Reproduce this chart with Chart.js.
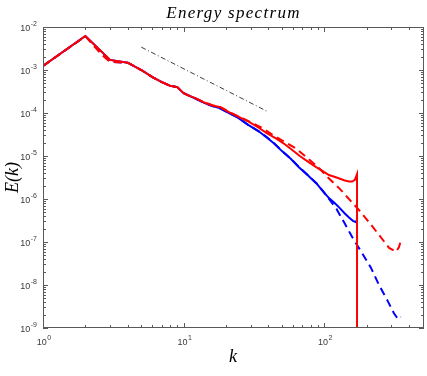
<!DOCTYPE html>
<html>
<head>
<meta charset="utf-8">
<script src="https://cdn.jsdelivr.net/npm/chart.js@4.4.0/dist/chart.umd.min.js"></script>
<style>
  html, body { margin: 0; padding: 0; background: #fff; }
</style>
</head>
<body>
<canvas id="spectrum" width="427" height="376"></canvas>
<script>
// Wavenumbers and energies
const kRedSolid = [1, 2, 3, 4, 5, 6, 7, 8, 9, 10, 11, 12, 14, 16, 18, 21, 24, 29, 34, 39, 45, 51, 58, 67, 77, 87, 97, 108, 118, 128, 140, 150, 158, 165, 171, 171];
const eRedSolid = [1.24e-3, 6.2e-3, 1.72e-3, 1.48e-3, 1.0e-3, 6.8e-4, 5.2e-4, 4.3e-4, 4.0e-4, 2.9e-4, 2.5e-4, 2.25e-4, 1.75e-4, 1.5e-4, 1.38e-4, 1.05e-4, 8.5e-5, 6.3e-5, 4.6e-5, 3.4e-5, 2.6e-5, 2.0e-5, 1.45e-5, 1.0e-5, 7.3e-6, 5.6e-6, 4.5e-6, 3.6e-6, 3.3e-6, 3.0e-6, 2.7e-6, 2.55e-6, 2.55e-6, 2.8e-6, 3.8e-6, 1e-12];

const kRedDashed = [1, 2, 2.6, 3, 4, 5, 6, 7, 8, 9, 10, 11, 12, 14, 16, 18, 21, 26, 31, 36.5, 43, 52, 63, 74, 90, 108, 128, 146, 177, 208, 245, 289, 324, 340, 352];
const eRedDashed = [1.24e-3, 6.1e-3, 2.3e-3, 1.55e-3, 1.48e-3, 1.0e-3, 6.8e-4, 5.2e-4, 4.3e-4, 4.0e-4, 2.9e-4, 2.5e-4, 2.25e-4, 1.78e-4, 1.52e-4, 1.4e-4, 1.07e-4, 7.6e-5, 5.8e-5, 4.4e-5, 3.1e-5, 2.15e-5, 1.5e-5, 9.6e-6, 5.6e-6, 3.0e-6, 1.77e-6, 1.1e-6, 5.5e-7, 2.9e-7, 1.46e-7, 7.3e-8, 5.9e-8, 7.6e-8, 1.15e-7];

const kBlueSolid = [1, 2, 3, 4, 5, 6, 7, 8, 9, 10, 11, 12, 14, 16, 18, 21, 24, 29, 34, 39, 44, 50, 58, 66, 76, 88, 98, 108, 118, 128, 140, 150, 160, 168, 171];
const eBlueSolid = [1.24e-3, 6.2e-3, 1.72e-3, 1.48e-3, 1.0e-3, 6.8e-4, 5.2e-4, 4.3e-4, 4.0e-4, 2.9e-4, 2.5e-4, 2.2e-4, 1.72e-4, 1.45e-4, 1.3e-4, 1.0e-4, 8.0e-5, 5.2e-5, 3.8e-5, 2.7e-5, 1.95e-5, 1.3e-5, 8.5e-6, 5.5e-6, 3.6e-6, 2.3e-6, 1.5e-6, 1.05e-6, 8.2e-7, 6.3e-7, 4.6e-7, 3.7e-7, 3.1e-7, 2.9e-7, 3.3e-7];

const kBlueDashed = [1, 2, 3, 4, 5, 6, 7, 8, 9, 10, 11, 12, 14, 16, 18, 21, 24, 29, 34, 39, 44, 50, 58, 66, 76, 88, 98, 108, 122, 139, 158, 171, 186, 215, 245, 280, 313, 335, 350];
const eBlueDashed = [1.24e-3, 6.1e-3, 1.55e-3, 1.48e-3, 1.0e-3, 6.8e-4, 5.2e-4, 4.3e-4, 4.0e-4, 2.9e-4, 2.5e-4, 2.2e-4, 1.72e-4, 1.45e-4, 1.3e-4, 1.0e-4, 8.0e-5, 5.2e-5, 3.8e-5, 2.75e-5, 1.97e-5, 1.32e-5, 8.6e-6, 5.6e-6, 3.65e-6, 2.33e-6, 1.52e-6, 1.0e-6, 5.9e-7, 2.8e-7, 1.3e-7, 8.5e-8, 5.5e-8, 2.5e-8, 1.0e-8, 4.5e-9, 2.2e-9, 1.6e-9, 1.8e-9];

// k^(-5/3) reference segment
const kRef = [5, 40];
const eRef = [3.4e-3, 1.06e-4];

// Axis limits and decade labels
const xLimits = [1, 512];
const yLimits = [1e-9, 1e-2];
const xTickExps = [0, 1, 2];
const yTickExps = [-9, -8, -7, -6, -5, -4, -3, -2];

const AXIS_COLOR = '#595959';
const LABEL_COLOR = '#3a3a3a';

function toPoints(ks, es) {
  return ks.map((k, i) => ({ x: k, y: es[i] }));
}

function lineSet(label, ks, es, color, width, dash, order) {
  return {
    label: label,
    data: toPoints(ks, es),
    borderColor: color,
    borderWidth: width,
    borderDash: dash,
    pointRadius: 0,
    tension: 0,
    fill: false,
    order: order
  };
}

// draws "10" with a raised exponent
function drawPower(ctx, exp, x, y, align) {
  const base = '10';
  const sup = String(exp);
  const baseFont = '9px "Liberation Sans", Arial, sans-serif';
  const supFont = '7px "Liberation Sans", Arial, sans-serif';
  ctx.font = baseFont;
  const wb = ctx.measureText(base).width;
  ctx.font = supFont;
  const ws = ctx.measureText(sup).width;
  const left = align === 'right' ? x - wb - ws - 0.5 : x - (wb + ws + 0.5) / 2;
  ctx.textAlign = 'left';
  ctx.textBaseline = 'middle';
  ctx.font = baseFont;
  ctx.fillText(base, left, y + 1.5);
  ctx.font = supFont;
  ctx.fillText(sup, left + wb + 0.5, y - 3);
}

const axesBox = {
  id: 'axesBox',
  afterDatasetsDraw(chart) {
    const { ctx, chartArea: a, scales: { x, y } } = chart;
    ctx.save();
    ctx.strokeStyle = AXIS_COLOR;
    ctx.lineWidth = 1;
    ctx.strokeRect(a.left + 0.5, a.top + 0.5, a.right - a.left - 1, a.bottom - a.top - 1);

    ctx.beginPath();
    // x ticks, bottom and top, pointing inward
    for (let d = 0; d <= 2; d++) {
      for (let m = 1; m <= 9; m++) {
        const v = m * Math.pow(10, d);
        if (v > xLimits[1]) break;
        const px = Math.round(x.getPixelForValue(v)) + 0.5;
        const len = m === 1 ? 5 : 3;
        ctx.moveTo(px, a.bottom);
        ctx.lineTo(px, a.bottom - len);
        ctx.moveTo(px, a.top);
        ctx.lineTo(px, a.top + len);
      }
    }
    // y ticks, left and right
    for (let d = -9; d <= -2; d++) {
      for (let m = 1; m <= 9; m++) {
        const v = m * Math.pow(10, d);
        if (v > yLimits[1] * 1.0001) break;
        const py = Math.round(y.getPixelForValue(v)) + 0.5;
        const len = m === 1 ? 5 : 3;
        ctx.moveTo(a.left, py);
        ctx.lineTo(a.left + len, py);
        ctx.moveTo(a.right, py);
        ctx.lineTo(a.right - len, py);
      }
    }
    ctx.stroke();

    // tick labels
    ctx.fillStyle = LABEL_COLOR;
    xTickExps.forEach(e => {
      drawPower(ctx, e, x.getPixelForValue(Math.pow(10, e)) + 1, a.bottom + 13, 'center');
    });
    yTickExps.forEach(e => {
      drawPower(ctx, e, a.left - 6, y.getPixelForValue(Math.pow(10, e)), 'right');
    });

    // title and axis labels
    ctx.fillStyle = '#000';
    ctx.textAlign = 'center';
    ctx.textBaseline = 'alphabetic';
    ctx.font = 'italic 17px "Liberation Serif", "Times New Roman", serif';
    ctx.letterSpacing = '1.3px';
    ctx.fillText('Energy spectrum', (a.left + a.right) / 2, 18);
    ctx.letterSpacing = '0px';
    ctx.font = 'italic 18px "Liberation Serif", "Times New Roman", serif';
    ctx.fillText('k', 233, 362);

    ctx.translate(13, (a.top + a.bottom) / 2);
    ctx.rotate(-Math.PI / 2);
    ctx.textBaseline = 'middle';
    ctx.fillText('E(k)', 0, 0);
    ctx.restore();
  }
};

const ctx = document.getElementById('spectrum');

new Chart(ctx, {
  type: 'line',
  data: {
    datasets: [
      lineSet('ref', kRef, eRef, '#3c3c3c', 1, [5, 2.5, 1, 2.5], 4),
      lineSet('blue dashed', kBlueDashed, eBlueDashed, '#0000ff', 2, [8, 5], 3),
      lineSet('blue solid', kBlueSolid, eBlueSolid, '#0000ff', 2, [], 2),
      lineSet('red dashed', kRedDashed, eRedDashed, '#ff0000', 2, [8, 5], 1),
      lineSet('red solid', kRedSolid, eRedSolid, '#ff0000', 2, [], 0)
    ]
  },
  options: {
    responsive: false,
    animation: false,
    layout: { padding: { left: 43, right: 3, top: 27, bottom: 48 } },
    plugins: {
      legend: { display: false },
      tooltip: { enabled: false }
    },
    scales: {
      x: { type: 'logarithmic', min: xLimits[0], max: xLimits[1], display: false },
      y: { type: 'logarithmic', min: yLimits[0], max: yLimits[1], display: false }
    }
  },
  plugins: [axesBox]
});
</script>
</body>
</html>
